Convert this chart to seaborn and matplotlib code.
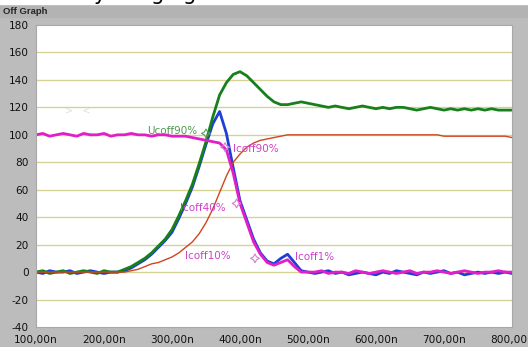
import numpy as np
import pandas as pd
import matplotlib
matplotlib.use("Agg")
import matplotlib.pyplot as plt
import seaborn as sns

# sample grid (ns)
time_ns = np.arange(100, 801, 10)

uce = [0, 1, -1, 0, 1, -1, 0, 1, 0, -1, 1, 0,
       0, 2, 4, 7, 10, 14, 19, 24, 31, 41, 52, 64, 79, 95, 113, 129, 138, 144,
       146, 143, 138, 133, 128, 124, 122, 122, 123, 124, 123,
       122, 121, 120, 121, 120, 119, 120, 121, 120, 119, 120, 119, 120, 120, 119,
       118, 119, 120, 119, 118, 119, 118, 119, 118, 119, 118, 119, 118, 118, 118]

ic_blue = [0, -1, 1, 0, 0, 1, -1, 0, 1, 0, -1, 0,
           0, 1, 3, 6, 9, 13, 18, 23, 29, 39, 50, 62, 77, 93, 108, 117, 101, 76,
           52, 38, 24, 14, 8, 6, 10, 13, 7, 1, 0,
           -1, 0, 1, -1, 0, -2, -1, 0, -1, -2, 0, -1, 1, 0, -1,
           -2, 0, -1, 0, 1, -1, 0, -2, -1, 0, -1, 0, -1, 0, -1]

ic_mag = [100, 101, 99, 100, 101, 100, 99, 101, 100, 100, 101, 99,
          100, 100, 101, 100, 100, 99, 100, 100, 99, 99, 99, 98, 97, 96, 95, 94, 89, 72,
          50, 36, 22, 13, 7, 5, 7, 9, 4, 0, 0,
          0, 1, -1, 0, 0, -1, 1, 0, -1, 0, 1, 0, -1, 0, 1,
          -1, 0, 0, 1, 0, -1, 0, 1, 0, -1, 0, 0, 1, 0, 0]

vge = [0] * 12 + [0, 0, 1, 2, 4, 6, 7, 9, 11, 14, 18, 22, 28, 36, 46, 58, 70, 80,
                  86, 91, 94, 96, 97, 98, 99, 100, 100, 100, 100] \
    + [100] * 19 + [99] * 10 + [98]

marker_t = [350, 378, 395, 422]
marker_v = [101, 91, 50, 10]
marker_c = ["#5aa05a", "#d080d0", "#d080d0", "#d080d0"]

labels = ["Ucoff90%", "Icoff90%", "Icoff40%", "Icoff10%", "Icoff1%"]
label_c = ["#4f9a4f", "#d040c8", "#d040c8", "#d040c8", "#d040c8"]

xticks = [100, 200, 300, 400, 500, 600, 700, 800]
xtick_labels = [f"{v},00n" for v in xticks]
yticks = list(range(-40, 181, 20))

series = pd.DataFrame({
    "t": np.tile(time_ns, 4),
    "v": ic_blue + uce + vge + ic_mag,
    "s": ["icb"] * 71 + ["uce"] * 71 + ["vge"] * 71 + ["icm"] * 71,
})
palette = {"uce": "#17801a", "vge": "#d0451e", "icb": "#1d3fd6", "icm": "#e21ec8"}
widths = {"uce": 2.0, "vge": 1.0, "icb": 2.0, "icm": 2.0}

sns.set_style("white")
plt.rcParams["font.family"] = ["DejaVu Sans"]

fig = plt.figure(figsize=(5.28, 3.47), dpi=100, facecolor="#bcbcbc")
ax = fig.add_axes([36 / 528, 20 / 347, 476 / 528, 302 / 347])
ax.set_facecolor("white")

# title bar
fig.patches.append(plt.Rectangle((0, 330 / 347), 1, 13 / 347, transform=fig.transFigure,
                                 color="#b3b3b3", zorder=0))
fig.patches.append(plt.Rectangle((0, 343 / 347), 1, 4 / 347, transform=fig.transFigure,
                                 color="white", zorder=1))
fig.text(3 / 528, 336 / 347, "Off Graph", family="Liberation Sans", weight="bold",
         fontsize=6.8, va="center", ha="left")
for xp, ch in [(100, "y"), (157, "g"), (190, "g")]:
    fig.text(xp / 528, 1.0, ch, fontsize=15, va="baseline", ha="center", color="black")

for name in ["icb", "uce", "vge", "icm"]:
    sns.lineplot(data=series[series["s"] == name], x="t", y="v", color=palette[name],
                 lw=widths[name], ax=ax, legend=False)

for t, v, c in zip(marker_t, marker_v, marker_c):
    ax.scatter([t], [v], marker=(4, 1, 0), s=40, facecolors="none", edgecolors=c,
               linewidths=0.8, zorder=5)

label_pos = [(264, 103), (390, 89.5), (312, 47), (319, 11.5), (481, 10.7)]
for (x, y), txt, c in zip(label_pos, labels, label_c):
    ax.text(x, y, txt, color=c, fontsize=7.5, va="center", ha="left", zorder=6)

ax.text(143, 117, ">   <", color="#e0e0e0", fontsize=7, va="center")

ax.set_xlim(100, 800)
ax.set_ylim(-40, 180)
ax.set_yticks(yticks)
ax.set_yticklabels([str(v) for v in yticks], fontsize=7.6, color="#111111")
ax.set_xticks(xticks)
ax.set_xticklabels(xtick_labels, fontsize=7.6, color="#111111")
ax.set_xticks(np.arange(100, 801, 10), minor=True)
ax.tick_params(axis="y", length=0, pad=5)
ax.tick_params(axis="x", which="major", length=4, width=0.8, color="#555555", pad=1.5)
ax.tick_params(axis="x", which="minor", length=2, width=0.6, color="#666666")
for y in yticks[1:-1]:
    ax.axhline(y, color="#d6d294", lw=1.0, zorder=0)
for sp in ax.spines.values():
    sp.set_color("#a8a8a8")
    sp.set_linewidth(0.8)
ax.set_xlabel("")
ax.set_ylabel("")

fig.savefig("out.png", dpi=100, facecolor=fig.get_facecolor())
